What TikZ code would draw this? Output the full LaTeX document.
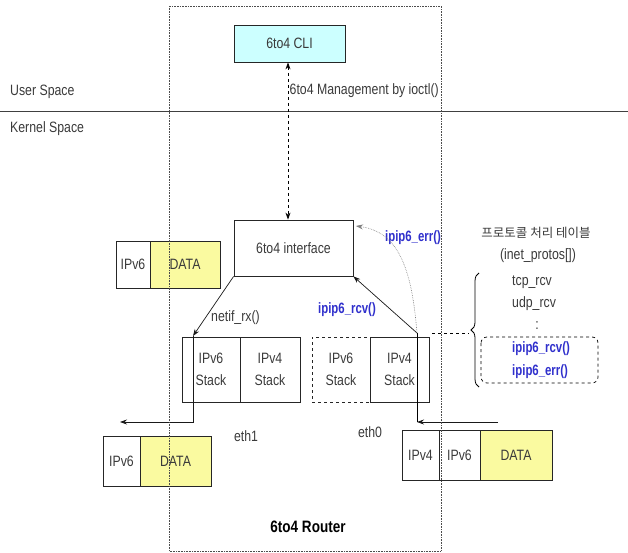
\documentclass[tikz,border=0pt]{standalone}
\usepackage{fontspec}
\setmainfont{Liberation Sans}[FakeStretch=0.82]
\newfontfamily\fnfont{Liberation Sans}[FakeStretch=0.76]
\newfontfamily\krfont{Noto Sans CJK KR}
\usetikzlibrary{arrows.meta, decorations.pathreplacing}
\definecolor{cliCyan}{HTML}{CCFFFF}
\definecolor{dataYellow}{HTML}{FAFAA0}
\definecolor{fnBlue}{HTML}{3030CC}
\definecolor{txtGray}{HTML}{3A3A3A}
\tikzset{
  box/.style={draw=black!85, line width=0.8pt, inner sep=0pt, align=center,
    text=txtGray, font=\fontsize{15}{22}\selectfont},
  lbl/.style={inner sep=0pt, text=txtGray, font=\fontsize{15}{17}\selectfont},
  fn/.style={inner sep=0pt, text=fnBlue, font=\fnfont\bfseries\fontsize{15}{17}\selectfont},
  arr/.style={-{Stealth[length=7pt,width=5pt]}, line width=0.7pt, draw=black!90},
}
\begin{document}
\begin{tikzpicture}[x=1pt,y=-1pt]
\useasboundingbox (0,0) rectangle (628,553);
% user/kernel split
\draw[line width=0.7pt, black!75] (0,111) -- (628,111);
\node[lbl, anchor=west] (us) at (10,92) {User Space};
\node[lbl, anchor=west] (ks) at (10,129) {Kernel Space};
% main boxes
\node[box, fill=cliCyan, minimum width=111pt, minimum height=37pt] (cli) at (289.5,43.5) {6to4 CLI};
\node[box, minimum width=119pt, minimum height=56pt] (iface) at (293.5,248) {6to4 interface};
% packet near interface
\node[box, minimum width=34pt, minimum height=47pt] (pa6) at (133,264.5) {IPv6};
\node[box, fill=dataYellow, minimum width=70pt, minimum height=47pt] (pad) at (185,264.5) {DATA};
% stacks
\node[box, minimum width=58pt, minimum height=65pt] (l6) at (211,369.5) {IPv6\\Stack};
\node[box, minimum width=60pt, minimum height=65pt] (l4) at (270,369.5) {IPv4\\Stack};
\node[box, dashed, minimum width=58pt, minimum height=65pt] (r6) at (341,369.5) {IPv6\\Stack};
\node[box, minimum width=59pt, minimum height=65pt] (r4) at (399.5,369.5) {IPv4\\Stack};
% bottom packets
\node[box, minimum width=37pt, minimum height=50pt] (pb6) at (121.5,461) {IPv6};
\node[box, fill=dataYellow, minimum width=71pt, minimum height=50pt] (pbd) at (175.5,461) {DATA};
\node[box, minimum width=37pt, minimum height=50pt] (pc4) at (420.5,455) {IPv4};
\node[box, minimum width=41pt, minimum height=50pt] (pc6) at (459.5,455) {IPv6};
\node[box, fill=dataYellow, minimum width=72pt, minimum height=50pt] (pcd) at (516,455) {DATA};
% labels
\node[lbl, anchor=west] (mgmt) at (289.5,91) {6to4 Management by ioctl()};
\node[lbl, anchor=west] (nrx) at (211,318) {netif\_rx()};
\node[fn] (rcvl) at (347,310) {ipip6\_rcv()};
\node[fn] (errl) at (413,238) {ipip6\_err()};
\node[lbl] (eth1) at (246,436) {eth1};
\node[lbl] (eth0) at (370,432) {eth0};
\node[inner sep=0pt, font=\bfseries\fontsize{16.5}{18}\selectfont] (rt) at (308,527) {6to4 Router};
% protocol table
\node[lbl, font=\krfont\fontsize{12.5}{14}\selectfont] (tbl) at (536,233) {프로토콜 처리 테이블};
\node[lbl] (inet) at (538,256) {(inet\_protos[])};
\node[lbl, anchor=west] (tcp) at (512,282) {tcp\_rcv};
\node[lbl, anchor=west] (udp) at (512,304) {udp\_rcv};
\node[lbl] (dots) at (537,326) {:};
\draw[dashed, line width=0.7pt, rounded corners=6pt] (481,337) rectangle (598,383);
\node[fn, anchor=west] (trcv) at (512,349) {ipip6\_rcv()};
\node[fn, anchor=west] (terr) at (512,372) {ipip6\_err()};
\draw[decorate, decoration={brace, amplitude=8pt}, line width=0.8pt] (479,387) -- (479,273);
% connectors
\draw[dashed, line width=0.8pt, {Stealth[length=7pt,width=5pt]}-{Stealth[length=7pt,width=5pt]}] (cli.south -| 288,0) -- (iface.north -| 288,0);
\coordinate (lin) at (193,336);
\coordinate (lturn) at (193,422);
\coordinate (lout) at (120,422);
\coordinate (rin) at (417,333);
\coordinate (rturn) at (417,422);
\coordinate (rsrc) at (498,422);
\coordinate (errend) at (356,226);
\coordinate (lk1) at (432,333);
\coordinate (lk2) at (469,333);
\draw[arr] (iface.south west) -- (lin);
\draw[arr] (lin) -- (lturn) -- (lout);
\draw[arr] (rsrc) -- (rturn);
\draw[line width=0.7pt] (rturn) -- (rin);
\draw[arr] (rin) -- (iface.south east);
\draw[arr, draw=gray, densely dotted, line width=0.6pt] (rin) .. controls (412,272) and (400,232) .. (errend);
\draw[dashed, line width=0.7pt] (lk1) -- (lk2);
% router border
\draw[densely dotted, black!70, line width=0.6pt] (169,6) rectangle (441,551);
\end{tikzpicture}
\end{document}
